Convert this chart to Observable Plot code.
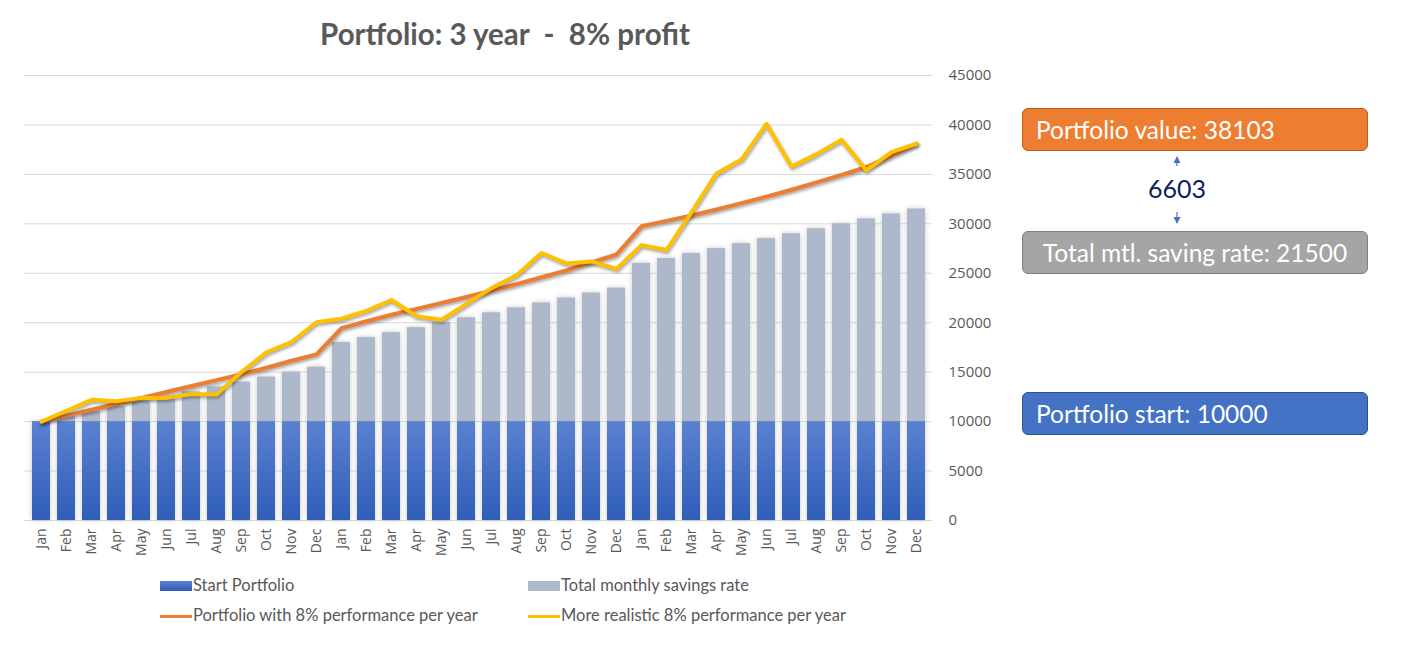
<!DOCTYPE html>
<html>
<head>
<meta charset="utf-8">
<script src="https://cdn.jsdelivr.net/npm/d3@7"></script>
<script src="https://cdn.jsdelivr.net/npm/@observablehq/plot@0.6"></script>
<style>
  html, body { margin: 0; padding: 0; background: #fff; }
  #page { position: relative; width: 1423px; height: 657px; overflow: hidden; font-family: Lato, "Open Sans", sans-serif; }
  #title { position: absolute; left: 0; top: 16px; width: 1010px; text-align: center; font-weight: 700; font-size: 29.5px; color: #595959; white-space: pre; }
  #chart { position: absolute; left: 0; top: 60px; }
  .leg { position: absolute; font-size: 16.5px; color: #595959; white-space: nowrap; }
  .sw { position: absolute; }
  .box { position: absolute; left: 1022px; width: 344px; height: 41px; border-radius: 6px; color: #fff; font-size: 24.5px; line-height: 41px; box-sizing: content-box; white-space: nowrap; }
</style>
</head>
<body>
<div id="page">
  <div id="title"></div>
  <div id="chart"></div>
</div>
<script>
// ---------- data ----------
const months = ["Jan","Feb","Mar","Apr","May","Jun","Jul","Aug","Sep","Oct","Nov","Dec"];
const startValue = 10000;
const totalSavings = [
  10000, 10500, 11000, 11500, 12000, 12500, 13000, 13500, 14000, 14500, 15000, 15500,
  18000, 18500, 19000, 19500, 20000, 20500, 21000, 21500, 22000, 22500, 23000, 23500,
  26000, 26500, 27000, 27500, 28000, 28500, 29000, 29500, 30000, 30500, 31000, 31500
];
const portfolio8 = [
  10000, 10600, 11200, 11800, 12400, 13000, 13600, 14200, 14800, 15450, 16150, 16800,
  19450, 20150, 20800, 21400, 22000, 22600, 23250, 23900, 24600, 25300, 26100, 26900,
  29750, 30300, 30850, 31450, 32100, 32750, 33450, 34200, 34950, 35750, 36900, 38103
];
const realistic8 = [
  10000, 11100, 12200, 12050, 12400, 12400, 12800, 12750, 15000, 17000, 18050, 20050,
  20400, 21200, 22300, 20650, 20300, 21900, 23500, 24800, 27050, 26000, 26200, 25450,
  27850, 27350, 31150, 35100, 36500, 40100, 35800, 37050, 38500, 35400, 37250, 38100
];
const yTicks = [0, 5000, 10000, 15000, 20000, 25000, 30000, 35000, 40000, 45000];
const titleText = "Portfolio: 3 year  -  8% profit";
const legendLabels = ["Start Portfolio", "Total monthly savings rate", "Portfolio with 8% performance per year", "More realistic 8% performance per year"];
const colors = { start: "#4472c4", savings: "#adb9ca", p8: "#ed7d31", real: "#ffc000" };

const data = totalSavings.map((t, i) => ({
  i, label: months[i % 12], start: startValue, total: t, p8: portfolio8[i], real: realistic8[i]
}));

document.getElementById("title").textContent = titleText;

// ---------- chart ----------
const svg = Plot.plot({
  width: 1000,
  height: 510,
  marginTop: 15,
  marginLeft: 24,
  marginRight: 68,
  marginBottom: 50,
  style: { fontFamily: "'Open Sans', sans-serif", fontSize: "14px", color: "#595959", background: "transparent" },
  x: { type: "band", domain: d3.range(totalSavings.length), paddingInner: 0.3, paddingOuter: 0.165, label: null },
  y: { domain: [0, 45000], label: null },
  marks: [
    Plot.gridY(yTicks, { stroke: "#d9d9d9", strokeOpacity: 1, strokeWidth: 1 }),
    Plot.barY(data, { x: "i", y1: 0, y2: "total", fill: "#9a9a9a", ariaDescription: "barshadow" }),
    Plot.barY(data, { x: "i", y1: "start", y2: "total", fill: colors.savings }),
    Plot.barY(data, { x: "i", y1: 0, y2: "start", fill: "url(#blueGrad)" }),
    Plot.lineY(data, { x: "i", y: "p8", stroke: colors.p8, strokeWidth: 4, ariaDescription: "lineshadow" }),
    Plot.lineY(data, { x: "i", y: "real", stroke: colors.real, strokeWidth: 4, ariaDescription: "lineshadow" }),
    Plot.axisY(yTicks, { anchor: "right", label: null, tickSize: 0, tickPadding: 16, tickFormat: d => String(d), fill: "#595959", ariaDescription: "yticks" }),
    Plot.axisX({ label: null, tickSize: 0, tickPadding: 8, tickRotate: -90, tickFormat: i => months[i % 12], fill: "#595959", ariaDescription: "xticks" })
  ]
});

// gradient + shadows + fonts
const s = d3.select(svg);
const defs = s.insert("defs", ":first-child");
const grad = defs.append("linearGradient").attr("id", "blueGrad").attr("x1", 0).attr("y1", 0).attr("x2", 0).attr("y2", 1);
grad.append("stop").attr("offset", "0%").attr("stop-color", "#5b81d1");
grad.append("stop").attr("offset", "100%").attr("stop-color", "#2f5db8");
s.selectAll('g[aria-description="barshadow"]').style("filter", "blur(2.5px)").style("opacity", 0.55);
s.selectAll('g[aria-description="lineshadow"]').style("filter", "drop-shadow(1px 2px 1.5px rgba(0,0,0,0.35))");
s.selectAll('g[aria-label="y-axis tick label"], g[aria-label="y-axis tick label"] text, g[aria-description="yticks"] text')
  .style("font-family", "'Open Sans', sans-serif").style("font-size", "15px");
s.selectAll('g[aria-label="x-axis tick label"], g[aria-label="x-axis tick label"] text, g[aria-description="xticks"] text')
  .style("font-family", "'Open Sans', sans-serif").style("font-size", "14px");
document.getElementById("chart").appendChild(svg);

// ---------- legend ----------
const page = document.getElementById("page");
function add(el, css) { Object.assign(el.style, css); page.appendChild(el); return el; }
const legItems = [
  { label: legendLabels[0], color: colors.start, type: "rect", x: 160, y: 586, grad: true },
  { label: legendLabels[1], color: colors.savings, type: "rect", x: 528, y: 586 },
  { label: legendLabels[2], color: colors.p8, type: "line", x: 160, y: 616 },
  { label: legendLabels[3], color: colors.real, type: "line", x: 528, y: 616 }
];
legItems.forEach(it => {
  const sw = document.createElement("div");
  sw.className = "sw";
  if (it.type === "rect") {
    add(sw, { left: it.x + "px", top: (it.y - 5) + "px", width: "32px", height: "10px",
      background: it.grad ? "linear-gradient(#5b81d1,#2f5db8)" : it.color });
  } else {
    add(sw, { left: it.x + "px", top: (it.y - 1.5) + "px", width: "32px", height: "3px", background: it.color });
  }
  const t = document.createElement("div");
  t.className = "leg";
  t.textContent = it.label;
  add(t, { left: (it.x + 33) + "px", top: (it.y - 11) + "px" });
});

// ---------- side boxes ----------
const last = totalSavings.length - 1;
const finalValue = portfolio8[last];
const totalSaved = totalSavings[last] - startValue;
const gain = finalValue - totalSavings[last];

const b1 = document.createElement("div");
b1.className = "box"; b1.textContent = "Portfolio value: " + finalValue;
add(b1, { top: "108px", background: "#ed7d31", border: "1px solid #b8601f", textIndent: "13px" });

const b2 = document.createElement("div");
b2.className = "box"; b2.textContent = "Total mtl. saving rate: " + totalSaved;
add(b2, { top: "231px", background: "#a5a5a5", border: "1px solid #7f7f7f", textAlign: "center" });

const b3 = document.createElement("div");
b3.className = "box"; b3.textContent = "Portfolio start: " + startValue;
add(b3, { top: "392px", background: "#4472c4", border: "1px solid #2f528f", textIndent: "13px" });

const g = document.createElement("div");
g.textContent = String(gain);
add(g, { position: "absolute", left: "1117px", width: "120px", textAlign: "center", top: "173px", fontSize: "25px", color: "#0b2260" });

const arrows = document.createElementNS("http://www.w3.org/2000/svg", "svg");
arrows.setAttribute("width", "20"); arrows.setAttribute("height", "80");
arrows.innerHTML = '<path d="M10 2 L13.5 9 L6.5 9 Z" fill="#4472c4"/><line x1="10" y1="8" x2="10" y2="12" stroke="#4472c4" stroke-width="1.2"/>' +
  '<path d="M10 70 L13.5 63 L6.5 63 Z" fill="#4472c4"/><line x1="10" y1="58" x2="10" y2="64" stroke="#4472c4" stroke-width="1.2"/>';
add(arrows, { position: "absolute", left: "1167px", top: "154px" });
</script>
</body>
</html>
